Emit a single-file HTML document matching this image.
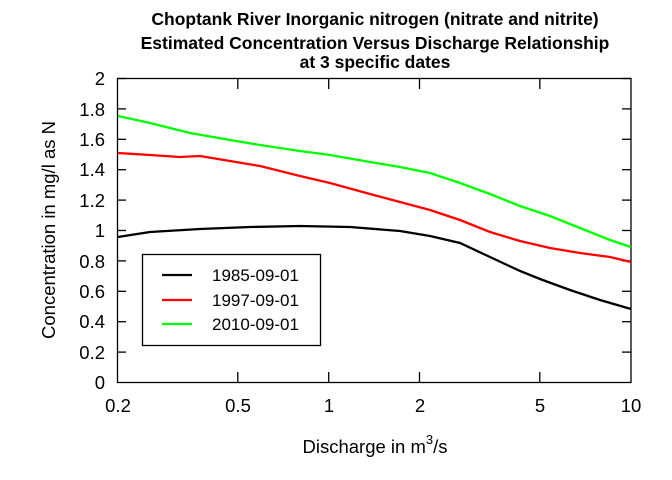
<!DOCTYPE html>
<html><head><style>body{margin:0;background:#fff}svg{display:block}</style></head><body>
<svg width="672" height="480" xmlns="http://www.w3.org/2000/svg" font-family="Liberation Sans, Arial, sans-serif">
<rect width="672" height="480" fill="#fff"/>
<g font-weight="bold" font-size="17.5" text-anchor="middle" fill="#000">
<text x="375" y="25">Choptank River Inorganic nitrogen (nitrate and nitrite)</text>
<text x="375" y="49">Estimated Concentration Versus Discharge Relationship</text>
<text x="375" y="68">at 3 specific dates</text>
</g>
<rect x="117.5" y="78.5" width="513.5" height="304" fill="none" stroke="#000" stroke-width="1.3"/>
<g stroke="#000" stroke-width="1.3">
<line x1="117.5" y1="78.5" x2="126" y2="78.5"/><line x1="117.5" y1="108.9" x2="126" y2="108.9"/><line x1="117.5" y1="139.3" x2="126" y2="139.3"/><line x1="117.5" y1="169.7" x2="126" y2="169.7"/><line x1="117.5" y1="200.1" x2="126" y2="200.1"/><line x1="117.5" y1="230.5" x2="126" y2="230.5"/><line x1="117.5" y1="260.9" x2="126" y2="260.9"/><line x1="117.5" y1="291.3" x2="126" y2="291.3"/><line x1="117.5" y1="321.7" x2="126" y2="321.7"/><line x1="117.5" y1="352.1" x2="126" y2="352.1"/>
<line x1="631" y1="78.5" x2="622" y2="78.5"/><line x1="631" y1="108.9" x2="622" y2="108.9"/><line x1="631" y1="139.3" x2="622" y2="139.3"/><line x1="631" y1="169.7" x2="622" y2="169.7"/><line x1="631" y1="200.1" x2="622" y2="200.1"/><line x1="631" y1="230.5" x2="622" y2="230.5"/><line x1="631" y1="260.9" x2="622" y2="260.9"/><line x1="631" y1="291.3" x2="622" y2="291.3"/><line x1="631" y1="321.7" x2="622" y2="321.7"/><line x1="631" y1="352.1" x2="622" y2="352.1"/>
<line x1="237.8" y1="382.5" x2="237.8" y2="372"/><line x1="328.7" y1="382.5" x2="328.7" y2="372"/><line x1="419.5" y1="382.5" x2="419.5" y2="372"/><line x1="539.8" y1="382.5" x2="539.8" y2="372"/>
<line x1="237.8" y1="78.5" x2="237.8" y2="89"/><line x1="328.7" y1="78.5" x2="328.7" y2="89"/><line x1="419.5" y1="78.5" x2="419.5" y2="89"/><line x1="539.8" y1="78.5" x2="539.8" y2="89"/>
</g>
<g font-size="18.5" text-anchor="end" fill="#000">
<text x="105" y="85">2</text><text x="105" y="116">1.8</text><text x="105" y="146">1.6</text><text x="105" y="176">1.4</text><text x="105" y="207">1.2</text><text x="105" y="237">1</text><text x="105" y="268">0.8</text><text x="105" y="298">0.6</text><text x="105" y="328">0.4</text><text x="105" y="359">0.2</text><text x="105" y="389">0</text>
</g>
<g font-size="18.5" text-anchor="middle" fill="#000">
<text x="118" y="412">0.2</text><text x="238" y="412">0.5</text><text x="329" y="412">1</text><text x="420" y="412">2</text><text x="540" y="412">5</text><text x="631" y="412">10</text>
<text x="375" y="453">Discharge in m<tspan dy="-9" font-size="13">3</tspan><tspan dy="9">/s</tspan></text>
<text transform="translate(55,230) rotate(-90)">Concentration in mg/l as N</text>
</g>
<g fill="none" stroke-width="2.3">
<polyline stroke="#000" points="118,237 150,232 200,229 250,227 300,226 350,227 400,231 430,236 460,243 490,257 520,271 540,279 570,290 600,300 631,309"/>
<polyline stroke="#f00" points="118,153 150,155 180,157 200,156 230,161 260,166 300,176 330,183 370,194 400,202 430,210 460,220 490,232 520,241 550,248 580,253 610,257 631,262"/>
<polyline stroke="#0f0" points="118,116 150,123 190,133 230,140 260,145 300,151 330,155 370,162 400,167 430,173 460,183 490,194 520,206 550,216 580,228 610,240 631,247"/>
</g>
<rect x="142.5" y="254.5" width="178" height="91" fill="#fff" stroke="#000" stroke-width="1.3"/>
<g stroke-width="2.3"><line x1="162" y1="275" x2="192" y2="275" stroke="#000"/><line x1="162" y1="300" x2="192" y2="300" stroke="#f00"/><line x1="162" y1="324" x2="192" y2="324" stroke="#0f0"/></g>
<g font-size="17" fill="#000"><text x="212" y="281">1985-09-01</text><text x="212" y="306">1997-09-01</text><text x="212" y="330">2010-09-01</text></g>
</svg>
</body></html>
